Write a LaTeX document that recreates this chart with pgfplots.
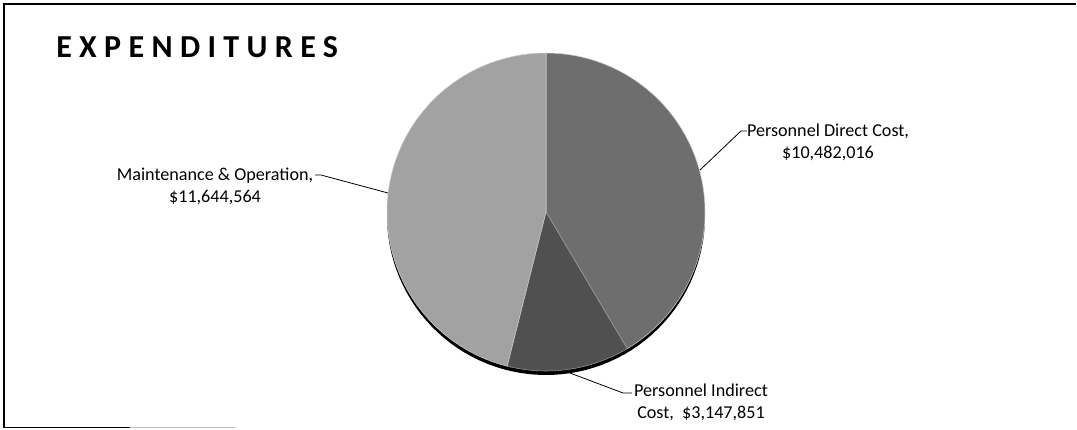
\documentclass[border=0pt]{standalone}
\usepackage{pgfplots}
\pgfplotsset{compat=1.18}
\usepackage{pgfplotstable}
\usepackage{fontspec}
\setmainfont{Carlito}
\newfontfamily\titlefont[LetterSpace=23]{Carlito}
\definecolor{cDirect}{HTML}{6E6E6E}
\definecolor{cIndirect}{HTML}{505050}
\definecolor{cMO}{HTML}{A2A2A2}

\pgfplotstableread{
slice value
Direct 10482016
Indirect 3147851
MO 11644564
}\expdata
\pgfplotstablegetelem{0}{value}\of\expdata \let\vA\pgfplotsretval
\pgfplotstablegetelem{1}{value}\of\expdata \let\vB\pgfplotsretval
\pgfplotstablegetelem{2}{value}\of\expdata \let\vC\pgfplotsretval
\pgfkeys{/pgf/fpu=true,/pgf/fpu/output format=fixed}
\pgfmathsetmacro\tot{\vA+\vB+\vC}
\pgfmathsetmacro\aA{90-360*\vA/\tot}
\pgfmathsetmacro\aB{\aA-360*\vB/\tot}
\pgfkeys{/pgf/fpu=false}

\begin{document}
\begin{tikzpicture}
\begin{axis}[scale only axis, width=807.75pt, height=321.75pt,
  xmin=0, xmax=1077, ymin=0, ymax=429, axis lines=none, clip=false]
\path (axis cs:0,0) rectangle (axis cs:1077,429);
% frame
\draw[line width=1.2pt] (axis cs:1076,425) -- (axis cs:4,425) -- (axis cs:4,1.5) -- (axis cs:130,1.5);
\draw[gray!50, line width=1pt] (axis cs:130,1.5) -- (axis cs:235,1.5);
% title
\node[anchor=west, inner sep=0pt] at (axis cs:56,382) {\fontsize{24}{28}\selectfont\titlefont\bfseries EXPENDITURES};
% 3D edge
\addplot[fill=black, draw=none, domain=0:360, samples=120] ({546+159*cos(x)},{213+159*sin(x)}) -- cycle;
% slices
\addplot[fill=cDirect, draw=white!80!black, line width=0.4pt, domain=\aA:90, samples=80] ({546+159*cos(x)},{217+159*sin(x)}) -- (axis cs:546,217) -- cycle;
\addplot[fill=cIndirect, draw=white!60!black, line width=0.4pt, domain=\aB:\aA, samples=40] ({546+159*cos(x)},{217+159*sin(x)}) -- (axis cs:546,217) -- cycle;
\addplot[fill=cMO, draw=white!80!black, line width=0.4pt, domain=-270:\aB, samples=90] ({546+159*cos(x)},{217+159*sin(x)}) -- (axis cs:546,217) -- cycle;
% leaders
\draw[line width=0.6pt] (axis cs:700,259) -- (axis cs:741,298) -- (axis cs:747,298);
\draw[line width=0.6pt] (axis cs:388,236) -- (axis cs:321,254) -- (axis cs:315,254);
\draw[line width=0.6pt] (axis cs:570,56) -- (axis cs:623,36) -- (axis cs:632,36);
% labels
\node[align=center, inner sep=0pt, font=\fontsize{13.6}{16.5}\selectfont] at (axis cs:828,287) {Personnel Direct Cost,\\\$10,482,016};
\node[align=center, inner sep=0pt, font=\fontsize{13.6}{16.5}\selectfont] at (axis cs:215,243) {Maintenance \& Operation,\\\$11,644,564};
\node[align=center, inner sep=0pt, font=\fontsize{13.6}{16.5}\selectfont] at (axis cs:701,26.5) {Personnel Indirect\\Cost,\ \ \$3,147,851};
\end{axis}
\end{tikzpicture}
\end{document}
